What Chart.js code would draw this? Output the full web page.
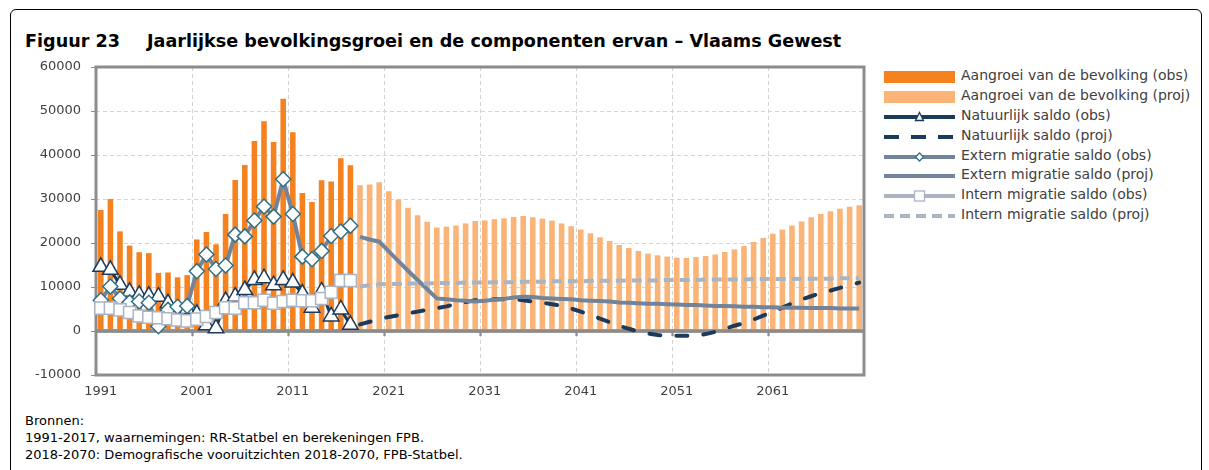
<!DOCTYPE html>
<html>
<head>
<meta charset="utf-8">
<script src="https://cdn.jsdelivr.net/npm/chart.js@4.4.1/dist/chart.umd.min.js"></script>
<style>
  html, body { margin:0; padding:0; background:#fff; }
  body { width:1209px; height:470px; position:relative; overflow:hidden; font-family:"DejaVu Sans", sans-serif; color:#404040; }
  #box { position:absolute; left:10px; top:9px; width:1190px; height:480px; border:1.5px solid #000; border-radius:6px 6px 0 0; }
  .ttl { position:absolute; top:31px; font-weight:bold; font-size:17.6px; color:#000; white-space:nowrap; }
  #c { position:absolute; left:0; top:0; }
  #legend { position:absolute; left:884px; top:67px; }
  .row { position:absolute; left:0; height:20px; white-space:nowrap; }
  .row svg { position:absolute; left:0; top:3px; }
  .row span { position:absolute; left:77px; top:0px; font-size:14px; color:#404040; }
  #src { position:absolute; left:25px; top:412px; font-size:13px; line-height:17px; color:#000; white-space:nowrap; }
</style>
</head>
<body>
<div id="box"></div>
<div class="ttl" style="left:25px">Figuur 23</div>
<div class="ttl" style="left:147px">Jaarlijkse bevolkingsgroei en de componenten ervan – Vlaams Gewest</div>
<canvas id="c" width="880" height="400"></canvas>
<div id="legend"></div>
<div id="src">Bronnen:<br>1991-2017, waarnemingen: RR-Statbel en berekeningen FPB.<br>2018-2070: Demografische vooruitzichten 2018-2070, FPB-Statbel.</div>
<script>
// years 1991-2070, observations up to 2017, projections from 2018
const years = [];
for (let y = 1991; y <= 2070; y++) years.push(String(y));
const nObs = 27;

const aangroeiObs = [27500, 30000, 22650, 19400, 17900, 17700, 13200, 13300, 12200, 12700,
  20800, 22500, 19700, 26600, 34300, 37700, 43200, 47650, 42950, 52800,
  45150, 31350, 29300, 34250, 34000, 39250, 37650];
const aangroeiProj = [33100, 33300, 33800, 31750, 29900, 28000, 26300, 24850, 23500, 23700,
  23950, 24450, 25000, 25150, 25400, 25600, 25900, 26150, 25850, 25550,
  25100, 24450, 23800, 23050, 22200, 21300, 20450, 19550, 18850, 18200,
  17600, 17200, 16900, 16650, 16600, 16800, 17050, 17400, 17950, 18550,
  19300, 20250, 21150, 22100, 23050, 23950, 24900, 25850, 26600, 27200,
  27800, 28250, 28550];

const natuurlijkObs = [14600, 13900, 10500, 8900, 8200, 8000, 7800, 6300, 4800, 5000,
  3900, 1300, 600, 6800, 7800, 9300, 11600, 12000, 10400, 11600,
  11000, 8500, 5300, 9000, 3300, 4900, 1400];
const natuurlijkProj = [1500, 2100, 2700, 3200, 3600, 4000, 4400, 4800, 5200, 5600,
  6100, 6600, 7000, 7100, 7200, 7200, 7200, 7000, 6700, 6400,
  6100, 5700, 5100, 4400, 3700, 2800, 2000, 1200, 500, -100,
  -600, -900, -1100, -1100, -1100, -1000, -700, -200, 500, 1200,
  1800, 2600, 3500, 4400, 5300, 6300, 7200, 7900, 8600, 9200,
  9800, 10400, 11000];

const externObs = [7000, 10100, 7400, 6500, 6700, 6400, 1100, 4800, 5500, 5700,
  13600, 17400, 14100, 14900, 21900, 21500, 25100, 28300, 26000, 34500,
  26600, 16900, 16300, 18200, 21600, 22600, 23900];
const externProj = [21400, 20800, 20300, 18100, 15900, 13700, 11600, 9500, 7400, 7200,
  7000, 6900, 6700, 6900, 7100, 7300, 7600, 7800, 7700, 7500,
  7400, 7300, 7200, 7000, 6900, 6800, 6700, 6500, 6400, 6300,
  6200, 6200, 6100, 6000, 5900, 5900, 5800, 5700, 5700, 5600,
  5500, 5500, 5400, 5400, 5300, 5300, 5300, 5200, 5200, 5200,
  5100, 5100, 5100];

const internObs = [5200, 5200, 4800, 4200, 3400, 3100, 3000, 2800, 2500, 2300,
  2700, 3300, 4200, 5300, 5200, 6400, 6400, 7000, 6300, 6700,
  7000, 6900, 6900, 7400, 8800, 11500, 11500];
const internProj = [10100, 10400, 10600, 10700, 10700, 10800, 10800, 10800, 10900, 10900,
  10900, 11000, 11000, 11000, 11100, 11100, 11100, 11200, 11200, 11200,
  11300, 11300, 11300, 11300, 11400, 11400, 11400, 11400, 11500, 11500,
  11500, 11500, 11600, 11600, 11600, 11600, 11700, 11700, 11700, 11700,
  11700, 11800, 11800, 11800, 11800, 11800, 11900, 11900, 11900, 11900,
  12000, 12000, 12000];

const yTicks = [-10000, 0, 10000, 20000, 30000, 40000, 50000, 60000];

const C = {
  obs: '#f58220', proj: '#fab478',
  nat: '#1b3a5c', ext: '#72849b', extMark: '#2f6f86', int: '#aab4c3'
};

const obs = a => a.concat(Array(years.length - a.length).fill(null));
const proj = a => Array(nObs).fill(null).concat(a);

function zeroLine(chart){
  const { ctx, chartArea: a, scales: { y } } = chart;
  const y0 = y.getPixelForValue(0);
  ctx.save();
  ctx.strokeStyle = '#8c8c8c'; ctx.lineWidth = 3;
  ctx.beginPath(); ctx.moveTo(a.left, y0); ctx.lineTo(a.right, y0); ctx.stroke();
  ctx.lineWidth = 1.5;
  const w = (a.right - a.left) / years.length;
  ctx.beginPath();
  for (let i = 10; i < years.length; i += 10){ const px = Math.round(a.left + i * w) + 0.5; ctx.moveTo(px, y0); ctx.lineTo(px, y0 + 5); }
  ctx.stroke();
  ctx.restore();
}

const framePlugin = {
  id: 'frame',
  beforeDatasetsDraw(chart){
    const { ctx, chartArea: a } = chart;
    ctx.save();
    ctx.strokeStyle = '#8c8c8c'; ctx.lineWidth = 3;
    ctx.strokeRect(a.left, a.top, a.right - a.left, a.bottom - a.top);
    ctx.restore();
    zeroLine(chart);
  },
  afterDatasetDraw(chart, args){
    if (args.meta.type === 'bar') zeroLine(chart);
  }
};

new Chart(document.getElementById('c'), {
  type: 'bar',
  data: {
    labels: years,
    datasets: [
      { label: 'Intern migratie saldo (obs)', type: 'line', data: obs(internObs), order: 1,
        borderColor: C.int, borderWidth: 3, pointStyle: 'rect', pointRadius: 8.5,
        pointBackgroundColor: '#fff', pointBorderColor: C.int, pointBorderWidth: 1.5 },
      { label: 'Intern migratie saldo (proj)', type: 'line', data: proj(internProj), order: 2,
        borderColor: C.int, borderWidth: 4, borderDash: [10, 6], pointRadius: 0 },
      { label: 'Extern migratie saldo (obs)', type: 'line', data: obs(externObs), order: 3,
        borderColor: C.ext, borderWidth: 4, pointStyle: 'rectRot', pointRadius: 7.5,
        pointBackgroundColor: '#fff', pointBorderColor: C.extMark, pointBorderWidth: 1.5 },
      { label: 'Extern migratie saldo (proj)', type: 'line', data: proj(externProj), order: 4,
        borderColor: C.ext, borderWidth: 4, pointRadius: 0 },
      { label: 'Natuurlijk saldo (obs)', type: 'line', data: obs(natuurlijkObs), order: 5,
        borderColor: C.nat, borderWidth: 3, pointStyle: 'triangle', pointRadius: 9,
        pointBackgroundColor: '#fff', pointBorderColor: C.nat, pointBorderWidth: 1.5 },
      { label: 'Natuurlijk saldo (proj)', type: 'line', data: proj(natuurlijkProj), order: 6,
        borderColor: C.nat, borderWidth: 4, borderDash: [11, 16], borderCapStyle: 'round', pointRadius: 0 },
      { label: 'Aangroei van de bevolking (obs)', data: obs(aangroeiObs), order: 10,
        backgroundColor: C.obs, grouped: false, barPercentage: 0.58, categoryPercentage: 1 },
      { label: 'Aangroei van de bevolking (proj)', data: proj(aangroeiProj), order: 11,
        backgroundColor: C.proj, grouped: false, barPercentage: 0.58, categoryPercentage: 1 }
    ]
  },
  options: {
    responsive: false,
    animation: false,
    layout: { padding: { top: 67, right: 16, left: 0, bottom: 0 } },
    plugins: { legend: { display: false }, tooltip: { enabled: false } },
    scales: {
      x: {
        offset: true,
        afterFit: s => { s.height = 25; },
        grid: {
          offset: true, drawTicks: false, lineWidth: 1,
          color: c => (c.index > 0 && c.index < years.length && c.index % 10 === 0) ? '#d4d4d4' : 'rgba(0,0,0,0)'
        },
        border: { display: false, dash: [4, 3] },
        ticks: {
          autoSkip: false, maxRotation: 0, padding: 9, color: '#404040',
          font: { family: 'DejaVu Sans', size: 13 },
          callback: (v, i) => i % 10 === 0 ? years[i] : ''
        }
      },
      y: {
        min: -10000, max: 60000,
        afterFit: s => { s.width = 96; },
        afterBuildTicks: s => { s.ticks = yTicks.map(v => ({ value: v })); },
        grid: {
          color: c => (c.tick && (c.tick.value === 0 || c.tick.value === 60000 || c.tick.value === -10000)) ? 'rgba(0,0,0,0)' : '#d4d4d4',
          tickColor: '#8c8c8c', tickLength: 5, lineWidth: 1
        },
        border: { display: false, dash: [4, 3] },
        ticks: { padding: 10, color: '#404040', font: { family: 'DejaVu Sans', size: 13 }, callback: v => String(v) }
      }
    }
  },
  plugins: [framePlugin]
});

// legend in the reference layout: sample 71px wide, text to the right
const legendRows = [
  { t: 'Aangroei van de bevolking (obs)', k: 'bar', c: C.obs },
  { t: 'Aangroei van de bevolking (proj)', k: 'bar', c: C.proj },
  { t: 'Natuurlijk saldo (obs)', k: 'tri', c: C.nat },
  { t: 'Natuurlijk saldo (proj)', k: 'dash', c: C.nat, d: '15 12' },
  { t: 'Extern migratie saldo (obs)', k: 'dia', c: C.ext },
  { t: 'Extern migratie saldo (proj)', k: 'line', c: C.ext },
  { t: 'Intern migratie saldo (obs)', k: 'sq', c: C.int },
  { t: 'Intern migratie saldo (proj)', k: 'dash', c: C.int, d: '10 6' }
];
const rowY = [0, 19.5, 39.5, 59.5, 79.5, 99, 118.5, 138.5];
function sample(r){
  const line = (extra) => `<line x1="0" y1="7" x2="71" y2="7" stroke="${r.c}" stroke-width="4" ${extra||''}/>`;
  if (r.k === 'bar') return `<rect x="0" y="1" width="71" height="12" fill="${r.c}"/>`;
  if (r.k === 'line') return line();
  if (r.k === 'dash') return line(`stroke-dasharray="${r.d}"`);
  if (r.k === 'tri') return line() + `<polygon points="35.5,2.5 39.5,10.5 31.5,10.5" fill="#fff" stroke="${C.nat}" stroke-width="1.3"/>`;
  if (r.k === 'dia') return line() + `<polygon points="35.5,3 39.5,7 35.5,11 31.5,7" fill="#fff" stroke="${C.extMark}" stroke-width="1.3"/>`;
  if (r.k === 'sq') return line() + `<rect x="30.5" y="2" width="10" height="10" fill="#fff" stroke="${C.int}" stroke-width="1.3"/>`;
}
document.getElementById('legend').innerHTML = legendRows.map((r, i) =>
  `<div class="row" style="top:${rowY[i]}px"><svg width="72" height="14">${sample(r)}</svg><span>${r.t}</span></div>`
).join('');
</script>
</body>
</html>
